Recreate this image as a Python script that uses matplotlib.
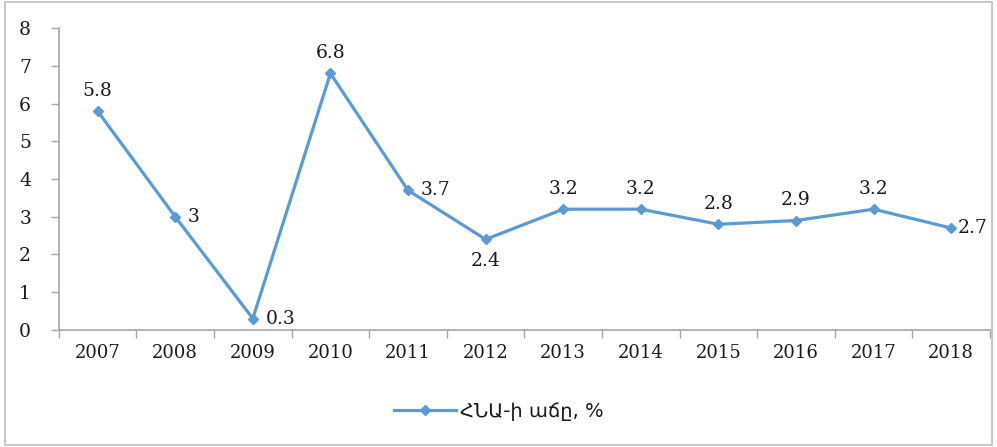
import matplotlib
matplotlib.use("Agg")
import matplotlib.pyplot as plt
from matplotlib.patches import Rectangle

years = ["2007", "2008", "2009", "2010", "2011", "2012", "2013", "2014", "2015", "2016", "2017", "2018"]
growth = [5.8, 3.0, 0.3, 6.8, 3.7, 2.4, 3.2, 3.2, 2.8, 2.9, 3.2, 2.7]
labels = ["5.8", "3", "0.3", "6.8", "3.7", "2.4", "3.2", "3.2", "2.8", "2.9", "3.2", "2.7"]
label_pos = ["above", "right", "right", "above", "right", "below", "above", "above", "above", "above", "above", "right"]
series_name = "ՀՆԱ-ի աճը, %"

color = "#5b9bd5"
serif = ["DejaVu Serif"]
tcol = "#1a1a1a"

fig = plt.figure(figsize=(9.97, 4.47), dpi=100)
ax = fig.add_axes([0.059, 0.262, 0.934, 0.675])

x = list(range(len(years)))
line, = ax.plot(x, growth, color=color, lw=2.3, marker="D", ms=5.5, label=series_name)

for i, (xi, yi, lab, pos) in enumerate(zip(x, growth, labels, label_pos)):
    if pos == "above":
        ax.annotate(lab, (xi, yi), xytext=(0, 8), textcoords="offset points", ha="center", va="bottom",
                    fontsize=13.5, family=serif, color=tcol)
    elif pos == "below":
        ax.annotate(lab, (xi, yi), xytext=(0, -9), textcoords="offset points", ha="center", va="top",
                    fontsize=13.5, family=serif, color=tcol)
    else:
        dx = 5 if i == len(x) - 1 else 9
        ax.annotate(lab, (xi, yi), xytext=(dx, 0), textcoords="offset points", ha="left", va="center",
                    fontsize=13.5, family=serif, color=tcol)

ax.set_xlim(-0.5, len(years) - 0.5)
ax.set_ylim(0, 8)
ax.set_yticks(range(0, 9))
ax.set_yticklabels([str(v) for v in range(0, 9)], family=serif, fontsize=13.5, color=tcol)
ax.set_xticks(x)
ax.set_xticklabels(years, family=serif, fontsize=13, color=tcol)
ax.set_xticks([i - 0.5 for i in range(len(years) + 1)], minor=True)
ax.tick_params(axis="x", which="major", length=0, pad=10)
ax.tick_params(axis="x", which="minor", length=6, color="#a6a6a6", width=1)
ax.tick_params(axis="y", length=6, color="#a6a6a6", width=1, pad=14)

for s in ["top", "right"]:
    ax.spines[s].set_visible(False)
for s in ["left", "bottom"]:
    ax.spines[s].set_color("#a6a6a6")
    ax.spines[s].set_linewidth(1.2)

leg = fig.legend(handles=[line], labels=[series_name], loc="center", bbox_to_anchor=(0.5, 0.08),
                 frameon=False, handlelength=3.2, handletextpad=0.2,
                 prop={"family": ["DejaVu Sans"], "size": 14})
for t in leg.get_texts():
    t.set_color(tcol)

fig.patches.append(Rectangle((0.005, 0.005), 0.99, 0.99, transform=fig.transFigure,
                             fill=False, edgecolor="#bfbfbf", lw=1.2))

fig.savefig("out.png", dpi=100)
